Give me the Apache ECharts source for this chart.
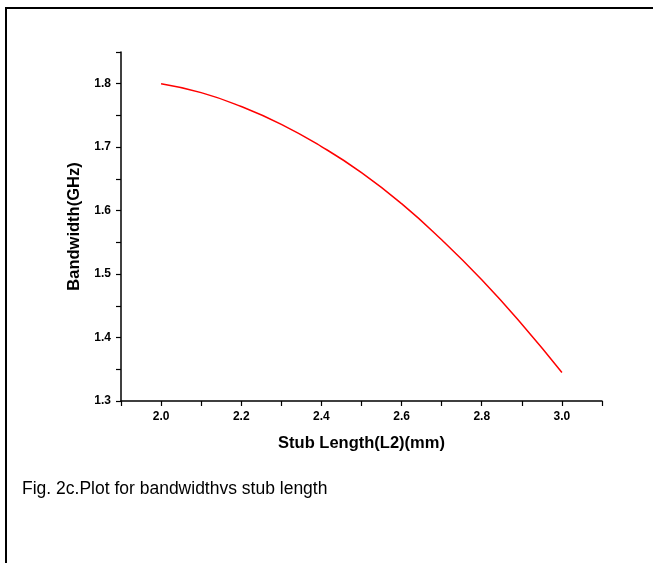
<!DOCTYPE html>
<html>
<head>
<meta charset="utf-8">
<script src="https://cdn.jsdelivr.net/npm/echarts@6/dist/echarts.min.js"></script>
<style>
  html, body { margin: 0; padding: 0; background: #fff; }
  #chart { width: 653px; height: 563px; }
</style>
</head>
<body>
<div id="chart"></div>
<script>
// stub length (mm) vs bandwidth (GHz)
var stubLength = [2.0, 2.1, 2.2, 2.3, 2.4, 2.5, 2.6, 2.7, 2.8, 2.9, 3.0];
var bandwidth = [1.800, 1.786, 1.764, 1.736, 1.701, 1.660, 1.611, 1.554, 1.491, 1.421, 1.345];

var xTickLabels = ['2.0', '2.2', '2.4', '2.6', '2.8', '3.0'];
var yTickLabels = ['1.3', '1.4', '1.5', '1.6', '1.7', '1.8'];

var caption = 'Fig. 2c.Plot for bandwidthvs stub length';

var points = [];
for (var i = 0; i < stubLength.length; i++) {
  points.push([stubLength[i], bandwidth[i]]);
}

var font = 'Liberation Sans, Arial, sans-serif';

var chart = echarts.init(document.getElementById('chart'));
var option = {
  animation: false,
  backgroundColor: '#fff',
  grid: { left: 121, top: 52, width: 481, height: 349 },
  graphic: [
    {
      type: 'rect',
      shape: { x: 6, y: 8, width: 700, height: 620 },
      style: { fill: 'none', stroke: '#000', lineWidth: 2 },
      silent: true
    },
    {
      type: 'text',
      left: 22,
      top: 480,
      style: { text: caption, font: '17.5px ' + font, fill: '#000' }
    }
  ],
  xAxis: {
    type: 'value',
    min: 1.9,
    max: 3.1,
    interval: 0.1,
    name: 'Stub Length(L2)(mm)',
    nameLocation: 'middle',
    nameGap: 34,
    nameTextStyle: { fontFamily: font, fontWeight: 'bold', fontSize: 16.5, color: '#000' },
    axisLine: { lineStyle: { color: '#000', width: 1.5 } },
    axisTick: { inside: false, length: 5, lineStyle: { color: '#000', width: 1.2 } },
    axisLabel: {
      fontFamily: font, fontWeight: 'bold', fontSize: 12, color: '#000', margin: 10,
      showMinLabel: true, showMaxLabel: true,
      formatter: function (v) {
        var s = v.toFixed(1);
        return xTickLabels.indexOf(s) >= 0 ? s : '';
      }
    },
    splitLine: { show: false }
  },
  yAxis: {
    type: 'value',
    min: 1.3,
    max: 1.85,
    interval: 0.05,
    name: 'Bandwidth(GHz)',
    nameLocation: 'middle',
    nameGap: 37,
    nameTextStyle: { fontFamily: font, fontWeight: 'bold', fontSize: 16.5, color: '#000' },
    axisLine: { show: true, lineStyle: { color: '#000', width: 1.5 } },
    axisTick: { show: true, inside: false, length: 5, lineStyle: { color: '#000', width: 1.2 } },
    axisLabel: {
      fontFamily: font, fontWeight: 'bold', fontSize: 12, color: '#000', margin: 10,
      showMinLabel: true, showMaxLabel: true,
      formatter: function (v) {
        var s = v.toFixed(2);
        s = s.charAt(s.length - 1) === '0' ? v.toFixed(1) : '';
        return yTickLabels.indexOf(s) >= 0 ? s : '';
      }
    },
    splitLine: { show: false }
  },
  series: [{
    type: 'line',
    data: points,
    smooth: true,
    symbol: 'none',
    lineStyle: { color: '#ff0000', width: 1.5 }
  }]
};
chart.setOption(option);
</script>
</body>
</html>
